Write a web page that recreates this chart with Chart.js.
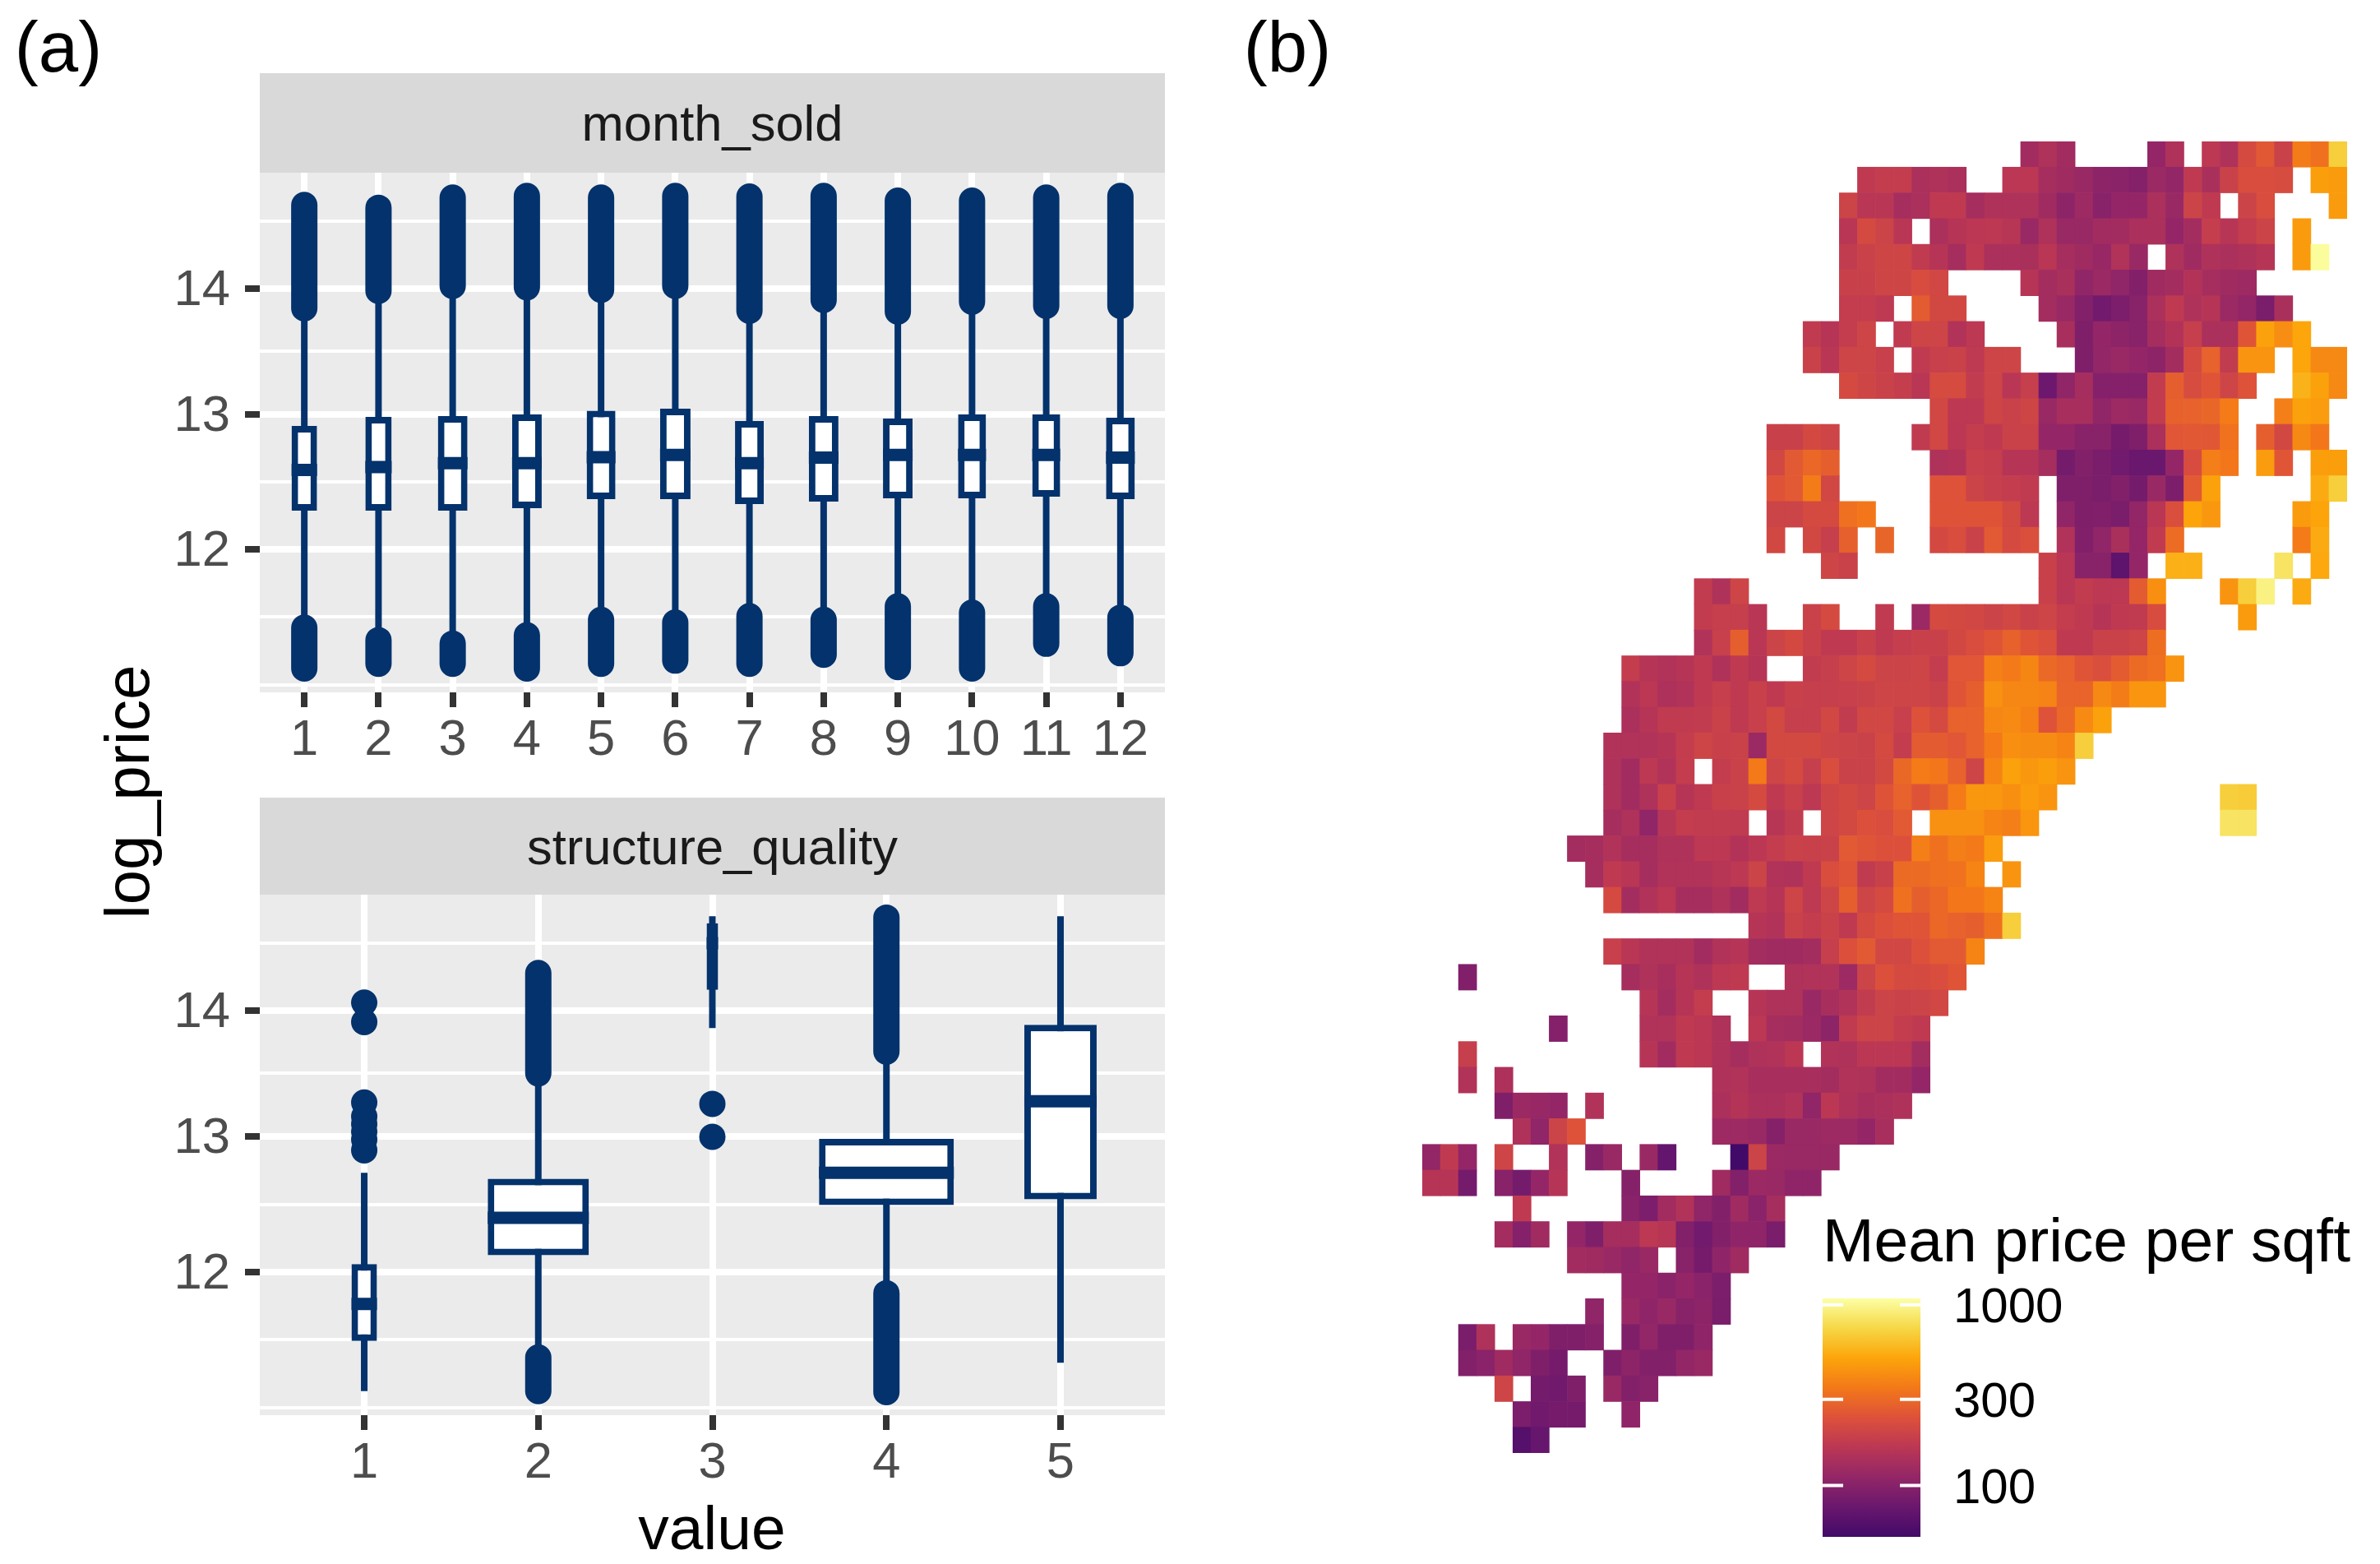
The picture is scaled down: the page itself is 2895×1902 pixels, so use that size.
<!DOCTYPE html>
<html>
<head>
<meta charset="utf-8">
<title>log_price boxplots and mean price map</title>
<script src="https://cdn.jsdelivr.net/npm/chart.js@4/dist/chart.umd.js"></script>
<style>
body { margin: 0; background: #fff; width: 2895px; height: 1902px; overflow: hidden; position: relative; font-family: "Liberation Sans", Arial, sans-serif; }
canvas { position: absolute; }
.label { position: absolute; white-space: nowrap; line-height: 1; transform: translate(-50%, -50%); color: #000; }
.strip { position: absolute; left: 316px; width: 1101px; background: #d9d9d9; color: #1a1a1a; font-size: 61.5px; display: flex; align-items: center; justify-content: center; }
</style>
</head>
<body>
<div class="label" style="left:71px;top:56px;font-size:87px">(a)</div>
<div class="label" style="left:1566px;top:56px;font-size:87px">(b)</div>
<div class="strip" style="top:89px;height:121px">month_sold</div>
<div class="strip" style="top:970px;height:118px">structure_quality</div>
<div class="label" style="left:155px;top:963px;font-size:76px;transform:translate(-50%,-50%) rotate(-90deg)">log_price</div>
<div class="label" style="left:866px;top:1858px;font-size:75px">value</div>
<div class="label" style="left:2538px;top:1508px;font-size:75px">Mean price per sqft</div>
<canvas id="month" width="1267" height="772" style="left:150px;top:170px"></canvas>
<canvas id="quality" width="1267" height="773" style="left:150px;top:1048px"></canvas>
<canvas id="map" width="1125" height="1595" style="left:1730px;top:172px"></canvas>
<canvas id="colorbar" width="319" height="370" style="left:2217px;top:1539px"></canvas>
<script>
// ---- panel (a): month_sold
const months = [1, 2, 3, 4, 5, 6, 7, 8, 9, 10, 11, 12];
const monthQ1 = [12.287, 12.287, 12.287, 12.305, 12.372, 12.372, 12.335, 12.354, 12.378, 12.378, 12.39, 12.372];
const monthMedian = [12.588, 12.61, 12.638, 12.638, 12.683, 12.70, 12.638, 12.68, 12.70, 12.70, 12.70, 12.68];
const monthQ3 = [12.915, 12.982, 12.988, 13.0, 13.03, 13.045, 12.951, 12.988, 12.97, 13.0, 13.0, 12.976];
const monthUpperHigh = [14.62, 14.60, 14.675, 14.687, 14.675, 14.687, 14.683, 14.687, 14.653, 14.653, 14.675, 14.687];
const monthUpperLow = [13.842, 13.982, 14.02, 14.01, 13.99, 14.02, 13.823, 13.91, 13.816, 13.895, 13.862, 13.862];
const monthLowerHigh = [11.422, 11.33, 11.304, 11.366, 11.48, 11.46, 11.507, 11.48, 11.58, 11.533, 11.58, 11.496];
const monthLowerLow = [11.12, 11.155, 11.155, 11.12, 11.155, 11.178, 11.155, 11.222, 11.13, 11.12, 11.303, 11.233];
const monthBoxPx = [31, 32, 36, 36, 35, 37, 35, 36, 36, 34, 34, 35];

// ---- panel (a): structure_quality
const qualities = [1, 2, 3, 4, 5];
const qualityQ1 = [11.491, 12.123, 14.155, 12.494, 12.537];
const qualityMedian = [11.764, 12.40, 14.5, 12.733, 13.28];
const qualityQ3 = [12.057, 12.689, 14.648, 12.985, 13.889];
const qualityWhiskerHigh = [12.733, 13.405, 14.70, 13.585, 14.70];
const qualityWhiskerLow = [11.121, 11.443, 13.862, 11.92, 11.33];
const qualityUpperHigh = [null, 14.28, null, 14.69, null];
const qualityUpperLow = [null, 13.5, null, 13.674, null];
const qualityLowerHigh = [null, 11.37, null, 11.843, null];
const qualityLowerLow = [null, 11.121, null, 11.113, null];
const qualityOutlierX = [1, 1, 1, 1, 1, 1, 1, 1, 3, 3];
const qualityOutlierY = [14.06, 13.91, 13.27, 13.16, 13.1, 13.04, 12.98, 12.9, 13.26, 13.0];
const qualityBoxPx = [31, 123, 14, 164, 88];

const yMajorTicks = [12, 13, 14];
const yMinorTicks = [11, 11.5, 12.5, 13.5, 14.5];

// the source's y axis is not quite even, so value -> share of panel height
const yStops = [10.94, 11, 11.5, 12, 12.5, 13, 13.5, 14, 14.5, 14.86];
const yStopShare = [0, 0.0149, 0.1448, 0.2753, 0.4051, 0.5348, 0.6566, 0.7769, 0.9066, 1];

// ---- panel (b): mean price per sqft, one list per map row, holes are empty cells
const priceTicks = [100, 300, 1000];
const priceMin = 52;
const priceMax = 1084;
const priceRowStart = [33,24,23,23,23,23,23,21,21,23,28,19,19,19,19,19,22,15,15,15,11,11,11,10,10,10,10,8,9,10,18,10,2,12,7,2,2,4,5,0,0,5,4,8,11,9,2,2,4,5,5];
const priceRows = [
  [128,145,128,,,,,112,145,,165,145,215,255,190,360,325,700],
  [170,178,178,140,145,140,,,162,162,132,125,118,105,103,98,120,110,170,138,190,225,225,220,,480,465],
  [195,160,160,132,140,170,170,132,145,145,145,125,105,122,100,112,112,140,118,195,170,,195,225,,,,465],
  [160,215,195,160,,140,155,162,165,158,118,145,118,118,128,128,140,140,112,130,180,158,178,195,,465],
  [175,192,200,200,172,155,132,170,140,140,138,160,132,125,115,148,118,,145,125,145,140,145,155,,465,1050],
  [188,188,200,200,222,205,,,,,155,130,138,108,120,108,95,125,130,150,132,125,122],
  [178,178,168,,262,208,208,,,,,130,118,95,82,90,100,140,170,145,155,120,110,88,138],
  [172,155,178,198,,172,198,198,148,165,,,,,135,92,112,105,100,132,150,182,140,140,245,490,415,510],
  [190,160,198,198,185,,172,185,192,168,198,198,,,,92,110,118,112,105,130,215,280,175,440,440,,510,400,400],
  [215,200,192,180,160,218,218,175,198,160,182,78,108,132,97,97,97,175,272,220,245,198,240,,,560,490,400],
  [205,165,165,200,192,200,118,135,135,108,122,118,175,278,280,290,355,,,365,490,470],
  [188,188,212,198,,,,,172,205,162,178,170,192,192,112,112,100,100,85,92,140,250,255,252,328,,272,208,400,345],
  [205,258,295,272,,,,,,145,150,185,180,155,155,132,84,95,88,82,76,76,112,222,365,345,,470,248,,480,480],
  [240,258,360,205,,,,,,240,240,195,182,178,172,,92,92,88,95,84,118,90,258,490,,,,,,530,690],
  [195,195,215,215,322,345,,,,242,242,242,242,210,165,,108,92,94,88,110,160,228,505,450,,,,,465,505],
  [208,,208,182,275,,288,,,212,225,192,258,215,230,,148,94,108,138,112,172,310,,,,,,,355,530],
  [198,190,,,,,,,,,,,188,160,100,100,68,112,,550,550,,,,,830,,520],
  [175,145,198,,,,,,,,,,,,,,,,,188,160,175,165,165,262,420,,,,440,690,950,,530],
  [175,182,182,160,,,192,215,,,172,,120,215,210,205,195,205,192,198,178,170,155,170,172,222,,,,,465],
  [148,185,272,160,195,212,188,170,170,188,170,180,188,188,208,225,245,278,245,228,170,170,192,192,198,315],
  [178,155,148,155,170,145,170,155,,,175,182,198,215,195,195,198,178,250,250,370,350,390,300,280,245,228,262,305,320,440],
  [148,162,142,148,170,182,170,188,170,188,182,182,185,192,198,198,198,192,245,272,430,395,395,380,285,285,400,360,445,445],
  [140,155,172,172,175,190,170,185,210,182,182,205,175,205,205,185,238,215,280,280,395,405,375,240,295,405,490],
  [148,148,148,155,178,198,188,192,120,210,210,210,198,195,192,215,178,262,262,250,280,350,420,410,410,385,690],
  [145,128,165,148,178,,178,192,350,198,215,182,225,190,190,210,298,355,345,280,198,385,490,450,480,440],
  [145,128,145,188,155,170,188,192,215,170,188,165,198,210,198,242,280,242,272,355,450,450,420,470,440,,,,,,,,,,700,680],
  [132,145,108,158,178,175,175,172,,158,175,,198,210,235,225,258,,425,425,425,385,365,445,,,,,,,,,,,830,830],
  [130,132,148,132,132,145,145,165,165,150,162,178,192,188,192,258,245,235,235,365,325,365,350,470],
  [132,170,160,132,148,148,148,158,165,195,148,145,170,225,245,172,188,305,305,320,328,385,,440],
  [215,130,148,162,132,132,145,128,168,155,198,168,198,272,198,215,325,272,295,345,345,385],
  [155,148,192,178,192,170,215,235,245,245,295,280,272,325,690],
  [185,160,148,148,148,128,148,155,130,125,125,130,182,235,258,205,205,235,258,258,385],
  [94,,,,,,,,,132,145,135,155,145,165,170,,,145,148,148,122,195,235,215,215,225,245],
  [155,130,155,178,,,155,145,145,118,135,148,175,195,192,195,205],
  [97,,,,,148,148,170,162,145,,162,132,130,120,105,172,195,195,178,170],
  [182,,,,,,,,,,155,128,170,162,145,132,145,148,162,,148,145,162,162,162,130],
  [148,,142,,,,,,,,,,,,145,148,135,135,135,135,130,148,145,128,128,112],
  [92,120,115,112,,148,,,,,,,140,152,140,140,148,108,162,145,135,140,145],
  [145,108,195,240,,,,,,,,122,122,118,98,118,118,122,122,112,135],
  [110,170,112,,198,,,148,,98,118,,118,72,,,,52,195,120,118,118,118],
  [155,155,84,,100,84,112,155,,,,98,,,,,125,95,120,118,107,107],
  [170,,,,,,100,90,128,148,108,95,125,102,132],
  [130,97,125,,112,92,132,132,165,158,95,82,95,107,107,88],
  [128,125,118,108,118,,100,85,107,125],
  [112,112,102,112,102,90],
  [108,,118,107,118,100,105,88],
  [88,145,,118,112,92,92,98,,92,110,92,92,107],
  [95,102,125,108,92,85,,,92,105,95,95,110,118],
  [198,,84,80,92,,118,95,100],
  [90,80,85,85,,,107],
  [62,74]
];
const mapColumns = 51;

const NAVY = '#03326c';
const INFERNO = ['#420a68', '#6a176e', '#932667', '#bb3754', '#dd513a', '#f37819', '#fca50a', '#f6d746', '#fcffa4'];

Chart.defaults.font.family = '"Liberation Sans", Arial, sans-serif';
Chart.defaults.animation = false;
Chart.defaults.layout.autoPadding = false;

class BentScale extends Chart.LinearScale {
    static id = 'bent';
    static defaults = Chart.LinearScale.defaults;
    getPixelForValue(value) {
        if (value === null || isNaN(value)) return NaN;
        let i = 0;
        while (i < yStops.length - 2 && value > yStops[i + 1]) i++;
        const f = (value - yStops[i]) / (yStops[i + 1] - yStops[i]);
        return this.getPixelForDecimal(yStopShare[i] + f * (yStopShare[i + 1] - yStopShare[i]));
    }
}
Chart.register(BentScale);

const panelBackground = {
    id: 'panelBackground',
    beforeDraw(chart) {
        const { ctx, chartArea: a } = chart;
        ctx.save();
        ctx.fillStyle = '#ebebeb';
        ctx.fillRect(a.left, a.top, a.width, a.height);
        ctx.restore();
    }
};

// the axis box is fixed by hand, labels must not push the chart area in
function fixAxisBox(axis, size) {
    if (axis.isHorizontal()) axis.height = size; else axis.width = size;
    axis.paddingLeft = axis.paddingRight = axis.paddingTop = axis.paddingBottom = 0;
}

// vertical runs at each category, broken by nulls so they stay apart
function runs(xs, lows, highs) {
    const out = [];
    xs.forEach((x, i) => {
        if (lows[i] === null) return;
        out.push({ x, y: lows[i] }, { x, y: highs[i] }, { x, y: null });
    });
    return out;
}

function boxChart(id, cats, q) {
    const unitPx = 1101 / (cats.length + 0.2);
    const xMax = cats.length + 0.6;
    const medians = [];
    cats.forEach((x, i) => {
        const half = q.boxPx[i] / unitPx / 2;
        medians.push({ x: x - half, y: q.median[i] }, { x: x + half, y: q.median[i] }, { x: x + half, y: null });
    });
    const line = (data, width, cap, order) => ({
        type: 'line', data, order, borderColor: NAVY, borderWidth: width, borderCapStyle: cap,
        pointRadius: 0, spanGaps: false, tension: 0, fill: false
    });
    const datasets = [
        line(runs(cats, q.wLow, q.wHigh), 8, 'butt', 6),
        line(runs(cats, q.upLow, q.upHigh), 32, 'round', 5),
        line(runs(cats, q.lowLow, q.lowHigh), 32, 'round', 5),
        line(medians, 15, 'butt', 1)
    ];
    cats.forEach((x, i) => datasets.push({
        type: 'bar', order: 2, grouped: false, barThickness: q.boxPx[i], inflateAmount: 0,
        data: [{ x, y: [q.q1[i], q.q3[i]] }],
        backgroundColor: '#fff', borderColor: NAVY, borderWidth: 8, borderSkipped: false
    }));
    if (q.pointsX) {
        datasets.push({
            type: 'line', showLine: false, order: 5,
            data: q.pointsX.map((x, i) => ({ x, y: q.pointsY[i] })),
            pointRadius: 16, pointBorderWidth: 0, pointBackgroundColor: NAVY
        });
    }
    return new Chart(document.getElementById(id), {
        type: 'bar',
        data: { datasets },
        options: {
            responsive: false,
            events: [],
            layout: { padding: { top: 40 } },
            plugins: { legend: { display: false }, tooltip: { enabled: false } },
            scales: {
                x: {
                    type: 'linear', min: 0.4, max: xMax, offset: false,
                    afterBuildTicks: axis => { axis.ticks = cats.map(value => ({ value })); },
                    afterFit: axis => fixAxisBox(axis, 100),
                    border: { display: false },
                    grid: { offset: false, color: '#fff', lineWidth: 8, tickColor: '#333', tickWidth: 8, tickLength: 18 },
                    ticks: { autoSkip: false, maxRotation: 0, padding: 4, color: '#4d4d4d', font: { size: 61.5 }, callback: v => String(v) }
                },
                y: {
                    type: 'bent', min: 10.94, max: 14.86, beginAtZero: false,
                    afterBuildTicks: axis => { axis.ticks = yMinorTicks.concat(yMajorTicks).sort((a, b) => a - b).map(value => ({ value })); },
                    afterFit: axis => fixAxisBox(axis, 166),
                    border: { display: false },
                    grid: {
                        color: '#fff', tickLength: 18,
                        lineWidth: c => yMajorTicks.includes(c.tick.value) ? 8 : 4,
                        tickWidth: c => yMajorTicks.includes(c.tick.value) ? 8 : 0,
                        tickColor: c => yMajorTicks.includes(c.tick.value) ? '#333' : 'transparent'
                    },
                    ticks: {
                        autoSkip: false, padding: 18, labelOffset: 3, color: '#4d4d4d', font: { size: 61.5 },
                        callback: v => yMajorTicks.includes(v) ? String(v) : ''
                    }
                }
            }
        },
        plugins: [panelBackground]
    });
}

boxChart('month', months, {
    q1: monthQ1, q3: monthQ3, median: monthMedian, boxPx: monthBoxPx,
    wLow: monthLowerHigh, wHigh: monthUpperLow,
    upLow: monthUpperLow, upHigh: monthUpperHigh,
    lowLow: monthLowerLow, lowHigh: monthLowerHigh
});
boxChart('quality', qualities, {
    q1: qualityQ1, q3: qualityQ3, median: qualityMedian, boxPx: qualityBoxPx,
    wLow: qualityWhiskerLow, wHigh: qualityWhiskerHigh,
    upLow: qualityUpperLow, upHigh: qualityUpperHigh,
    lowLow: qualityLowerLow, lowHigh: qualityLowerHigh,
    pointsX: qualityOutlierX, pointsY: qualityOutlierY
});

// colour scale: log10 price onto inferno from 0.2 to 1
function infernoAt(share) {
    const pos = Math.min(Math.max(share, 0), 1) * (INFERNO.length - 1);
    const i = Math.min(Math.floor(pos), INFERNO.length - 2);
    const a = parseInt(INFERNO[i].slice(1), 16);
    const b = parseInt(INFERNO[i + 1].slice(1), 16);
    const mix = s => Math.round(((a >> s) & 255) + (pos - i) * (((b >> s) & 255) - ((a >> s) & 255)));
    return `rgb(${mix(16)},${mix(8)},${mix(0)})`;
}
const priceColor = v => infernoAt(Math.log(v / priceMin) / Math.log(priceMax / priceMin));

const cells = [];
priceRows.forEach((row, r) => {
    row.forEach((price, i) => cells.push({ x: priceRowStart[r] + i, y: [r, r + 1], price }));
});

new Chart(document.getElementById('map'), {
    type: 'bar',
    data: {
        datasets: [{
            data: cells,
            grouped: false,
            barThickness: 1125 / mapColumns,
            backgroundColor: c => priceColor(c.raw.price),
            borderWidth: 0
        }]
    },
    options: {
        responsive: false,
        events: [],
        plugins: { legend: { display: false }, tooltip: { enabled: false } },
        scales: {
            x: { type: 'linear', min: -0.5, max: mapColumns - 0.5, offset: false, display: false },
            y: { type: 'linear', min: 0, max: priceRows.length, reverse: true, beginAtZero: false, display: false }
        }
    }
});

// colour bar
const tickMarks = [];
priceTicks.forEach(y => {
    tickMarks.push({ x: 0, y }, { x: 0.21, y }, { x: 0.21, y: null }, { x: 0.79, y }, { x: 1, y }, { x: 1, y: null });
});
new Chart(document.getElementById('colorbar'), {
    type: 'bar',
    data: {
        datasets: [
            {
                type: 'line', order: 1, data: tickMarks, borderColor: '#fff', borderWidth: 4,
                pointRadius: 0, spanGaps: false, tension: 0
            },
            {
                type: 'bar', order: 2, grouped: false, barThickness: 119, inflateAmount: 0,
                data: [{ x: 0.5, y: [priceMin, priceMax] }],
                borderWidth: 0,
                backgroundColor: c => {
                    const a = c.chart.chartArea;
                    if (!a) return INFERNO[0];
                    const g = c.chart.ctx.createLinearGradient(0, a.bottom, 0, a.top);
                    INFERNO.forEach((col, i) => g.addColorStop(i / (INFERNO.length - 1), col));
                    return g;
                }
            }
        ]
    },
    options: {
        responsive: false,
        events: [],
        layout: { padding: { top: 40, bottom: 40 } },
        plugins: { legend: { display: false }, tooltip: { enabled: false } },
        scales: {
            x: { type: 'linear', min: 0, max: 1, offset: false, display: false },
            y: {
                type: 'logarithmic', position: 'right', min: priceMin, max: priceMax, beginAtZero: false,
                afterBuildTicks: axis => { axis.ticks = priceTicks.map(value => ({ value })); },
                afterFit: axis => fixAxisBox(axis, 200),
                border: { display: false },
                grid: { display: false, drawTicks: false },
                ticks: { autoSkip: false, padding: 40, labelOffset: 5, color: '#000', font: { size: 60 }, callback: v => String(v) }
            }
        }
    }
});
</script>
</body>
</html>
